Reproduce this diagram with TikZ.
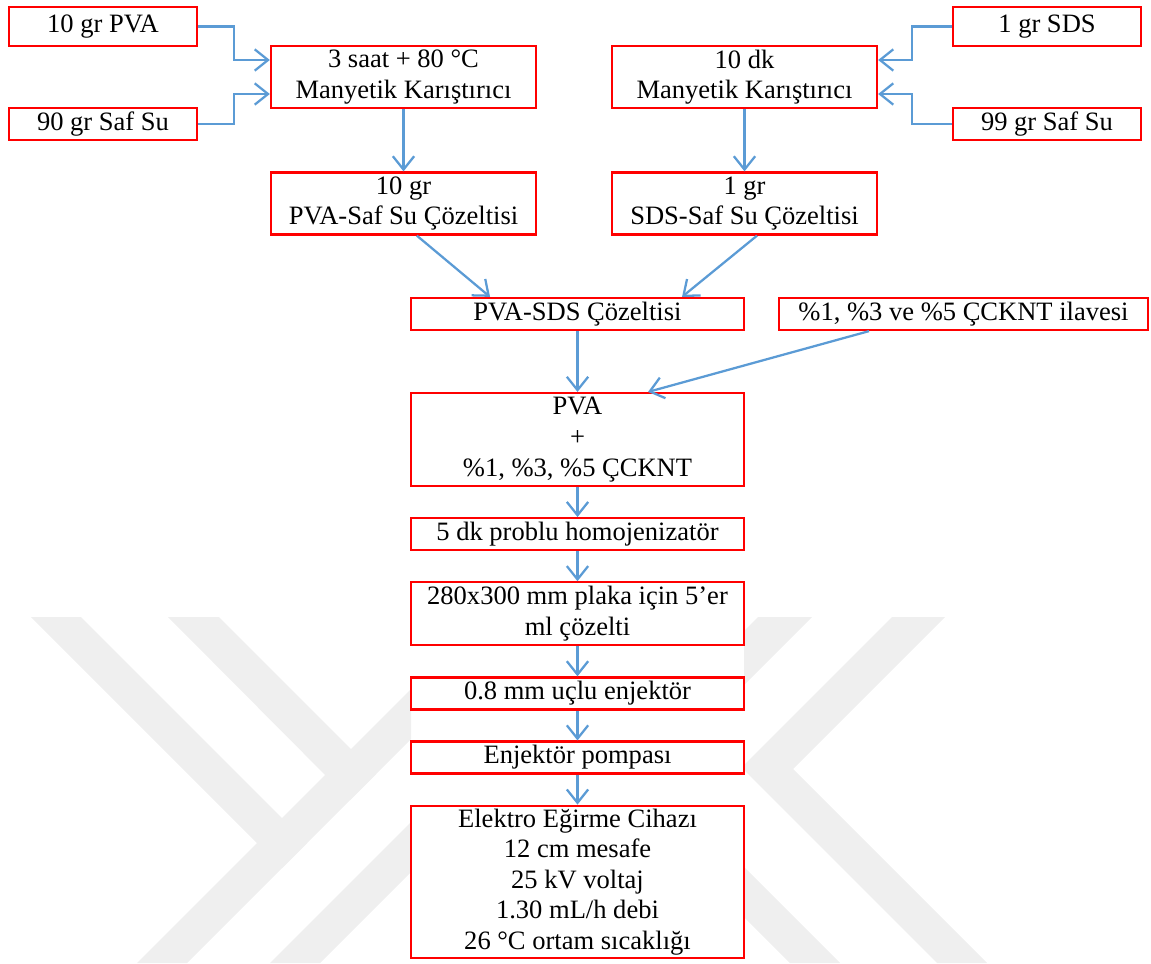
\documentclass[tikz,border=0pt]{standalone}
\usepackage{fontspec}
\setmainfont{Liberation Serif}
\usepackage{xcolor}
\usepackage{tikz}
\usetikzlibrary{arrows.meta,positioning}
\definecolor{kirmizi}{HTML}{FF0000}
\definecolor{okmavi}{HTML}{5B9BD5}
\definecolor{filigrangri}{HTML}{EFEFEF}
\newcommand{\metin}{\fontsize{19.9pt}{22.9pt}\selectfont}

\begin{document}
\begin{tikzpicture}[x=0.75pt,y=-0.75pt,>={Straight Barb[length=10pt,width=16pt]},node distance=22.4pt,
  kutu/.style={draw=kirmizi,line width=1.7pt,align=center,inner sep=0pt,font=\metin},
  kucuk/.style={kutu,minimum width=141pt},
  orta/.style={kutu,minimum width=198.75pt,minimum height=46.5pt},
  kolon/.style={kutu,minimum width=249.75pt,minimum height=24pt},
  ok/.style={draw=okmavi,line width=1.7pt,->},
  filigran/.style={fill=filigrangri}]
\useasboundingbox (0,0) rectangle (1151,963);
% filigran
\begin{scope}
\clip (0,0) rectangle (411,963) (744,0) rectangle (1151,963);
\fill[filigran] (31,617) -- (81,617) -- (307,843) -- (282,868) -- cycle;
\fill[filigran] (168,617) -- (219,617) -- (376,774) -- (350,800) -- cycle;
\fill[filigran] (137,963) -- (187,963) -- (560,590) -- (510,590) -- cycle;
\fill[filigran] (270,963) -- (320,963) -- (693,590) -- (643,590) -- cycle;
\fill[filigran] (892,617) -- (945,617) -- (793,769) -- (987,963) -- (937,963) -- (741.5,767.5) -- cycle;
\fill[filigran] (758,617) -- (812,617) -- (600,829) -- (546,829) -- cycle;
\fill[filigran] (790,963) -- (840,963) -- (600,723) -- (550,723) -- cycle;
\end{scope}
% PVA tarafi
\node[kucuk,minimum height=29.25pt] (pva) at (103,26.5) {10 gr PVA};
\node[kucuk,minimum height=24pt] (su1) at (103,124) {90 gr Saf Su};
\node[orta] (karistirici1) at (403.5,77) {3 saat + 80 °C\\Manyetik Karıştırıcı};
\node[orta] (cozelti1) at (403.5,203.5) {10 gr\\PVA-Saf Su Çözeltisi};
% SDS tarafi
\node[kucuk,minimum height=29.25pt] (sds) at (1047,26.5) {1 gr SDS};
\node[kucuk,minimum height=24pt] (su2) at (1047,124) {99 gr Saf Su};
\node[orta] (karistirici2) at (744.5,77) {10 dk\\Manyetik Karıştırıcı};
\node[orta] (cozelti2) at (744.5,203.5) {1 gr\\SDS-Saf Su Çözeltisi};
% ana kolon
\node[kolon] (pvasds) at (577.5,314) {PVA-SDS Çözeltisi};
\node[kutu,minimum width=276.75pt,minimum height=24pt] (ilave) at (963.5,314) {\%1, \%3 ve \%5 ÇCKNT ilavesi};
\node[kolon,minimum height=69.75pt,below=45.6pt of pvasds] (karisim) {PVA\\+\\\%1, \%3, \%5 ÇCKNT};
\node[kolon,below=of karisim] (homojen) {5 dk problu homojenizatör};
\node[kolon,minimum height=47.25pt,below=of homojen] (plaka) {280x300 mm plaka için 5’er\\ml çözelti};
\node[kolon,below=of plaka] (enjektor) {0.8 mm uçlu enjektör};
\node[kolon,below=of enjektor] (pompa) {Enjektör pompası};
\node[kolon,minimum height=114pt,below=of pompa] (cihaz) {Elektro Eğirme Cihazı\\12 cm mesafe\\25 kV voltaj\\1.30 mL/h debi\\26 °C ortam sıcaklığı};
% oklar
\draw[ok] (pva.east) -- ++(36,0) |- ([yshift=12.75pt]karistirici1.west);
\draw[ok] (su1.east) -- ++(36,0) |- ([yshift=-12.75pt]karistirici1.west);
\draw[ok] (sds.west) -- ++(-40,0) |- ([yshift=12.75pt]karistirici2.east);
\draw[ok] (su2.west) -- ++(-40,0) |- ([yshift=-12.75pt]karistirici2.east);
\draw[ok] (karistirici1) -- (cozelti1);
\draw[ok] (karistirici2) -- (cozelti2);
\draw[ok] ([xshift=10pt]cozelti1.south) -- ([xshift=-65.6pt]pvasds.north);
\draw[ok] ([xshift=9.4pt]cozelti2.south) -- ([xshift=78.4pt]pvasds.north);
\draw[ok] ([xshift=-70.9pt]ilave.south) -- ([xshift=52.9pt]karisim.north);
\draw[ok] (pvasds) -- (karisim);
\draw[ok] (karisim) -- (homojen);
\draw[ok] (homojen) -- (plaka);
\draw[ok] (plaka) -- (enjektor);
\draw[ok] (enjektor) -- (pompa);
\draw[ok] (pompa) -- (cihaz);
\end{tikzpicture}
\end{document}
